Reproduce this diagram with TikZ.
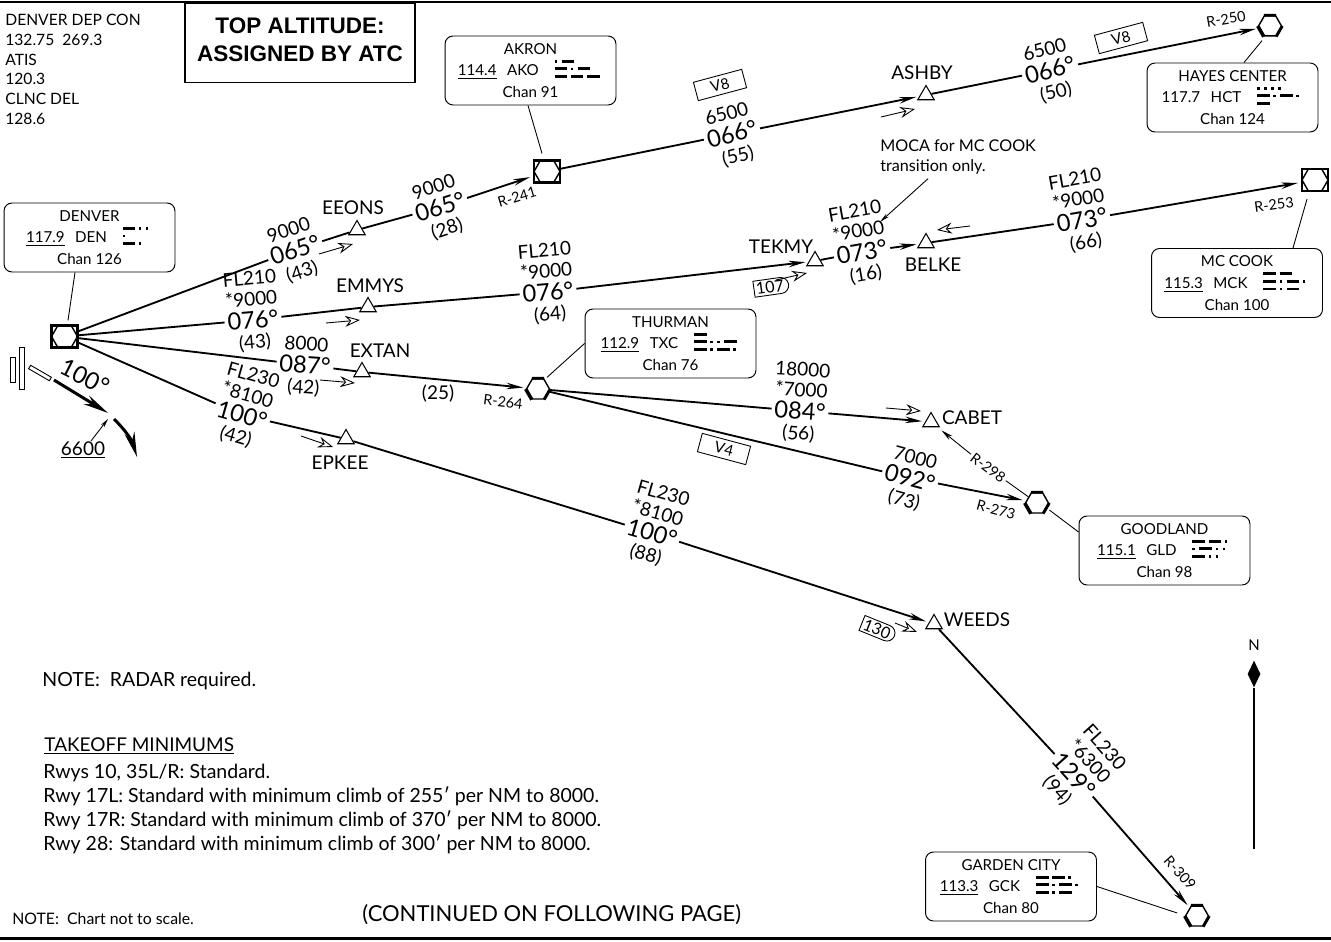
\documentclass[tikz,border=0pt]{standalone}
\usepackage{fontspec}
\setmainfont{Lato}
\newfontfamily\boldhead{Liberation Sans}
\usetikzlibrary{arrows.meta,shapes.geometric,shapes.misc}

\newcommand{\mda}{\rule{7.2pt}{1.6pt}\kern2pt}
\newcommand{\mdo}{\rule{1.4pt}{1.4pt}\kern2.6pt}
\newcommand{\morse}[3]{\raisebox{-1.1pt}{\vbox{\baselineskip=4.3pt\lineskip=0pt\lineskiplimit=-10pt\hbox{#1}\hbox{#2}\hbox{#3}}}}
\newcommand{\legblock}[6]{%
  \node[hdg,rotate=#3] (#1) at (#2) {#5};
  \node[altx,rotate=#3,anchor=south] (#1a) at (#1.north) {#4};
  \node[altx,rotate=#3,anchor=north] (#1d) at (#1.south) {#6};}
\newcommand{\flow}[3]{%
  \coordinate (#1s) at (#2);
  \coordinate (#1t) at (#3);
  \draw[flowarr] (#1s) -- (#1t);}

\tikzset{
  navbox/.style={draw,line width=.55pt,rounded corners=.16cm,minimum width=3.42cm,minimum height=1.38cm,
    align=center,inner sep=0pt,font=\fontsize{8.6}{12.4}\selectfont,execute at begin node={\rule{0pt}{10.5pt}}},
  fixtri/.style={regular polygon,regular polygon sides=3,draw,line width=.6pt,minimum size=.38cm,inner sep=0pt},
  hexfix/.style={regular polygon,regular polygon sides=6,draw,line width=.8pt,minimum size=.46cm,inner sep=0pt},
  vorbox/.style={rectangle,draw,line width=1.2pt,minimum width=.52cm,minimum height=.44cm,inner sep=0pt,
    path picture={\node[hexfix,minimum size=.52cm] at (path picture bounding box.center) {};}},
  hdg/.style={inner xsep=1.5pt,inner ysep=2.8pt,font=\fontsize{13.5}{13.5}\selectfont},
  altx/.style={inner sep=0pt,align=center,font=\fontsize{10.8}{11.6}\selectfont},
  leg/.style={line width=1.05pt},
  legto/.style={leg,-{Stealth[length=.34cm,width=.13cm]},shorten >=.06cm},
  leader/.style={line width=.5pt},
  flowarr/.style={line width=.5pt,-{Stealth[open,length=.3cm,width=.22cm,inset=.1cm,fill=white]}},
  fixname/.style={inner sep=0pt,font=\fontsize{10.8}{12}\selectfont},
  radial/.style={inner sep=1pt,font=\fontsize{8.2}{10}\selectfont},
  airway/.style={draw,line width=.5pt,inner sep=0pt,minimum width=1cm,minimum height=.38cm,font=\fontsize{8.6}{10}\selectfont},
  mintag/.style={rounded rectangle,rounded rectangle left arc=none,draw,line width=.5pt,inner sep=1.2pt,font=\fontsize{9.2}{10}\selectfont},
  chartnote/.style={inner sep=0pt,align=left,anchor=west},
}

\begin{document}
\begin{tikzpicture}[x=.02cm,y=-.02cm,>=Stealth]
\useasboundingbox (0,0) rectangle (1331,942);

\coordinate (tl) at (0,2);
\coordinate (tr) at (1331,2);
\coordinate (bl) at (0,938);
\coordinate (br) at (1331,938);
\draw[line width=1.7pt] (tl) -- (tr);
\draw[line width=1.7pt] (bl) -- (br);

\node[chartnote,anchor=north west,font=\fontsize{8.9}{11.2}\selectfont] (freqs) at (5,14) {DENVER DEP CON\\132.75\ \ 269.3\\ATIS\\120.3\\CLNC DEL\\128.6};
\node[draw,line width=.6pt,minimum width=4.6cm,minimum height=1.58cm,inner sep=0pt,align=center,font=\boldhead\bfseries\fontsize{12.8}{16}\selectfont,text depth=4pt] (topalt) at (300,43) {TOP ALTITUDE:\\ASSIGNED BY ATC};

\node[vorbox] (den) at (64.5,336.5) {};
\node[vorbox] (ako) at (547,171.5) {};
\node[vorbox] (mck) at (1315,180) {};
\node[hexfix] (hct) at (1270,26) {};
\node[hexfix] (txc) at (538,389) {};
\node[hexfix] (gld) at (1037,503) {};
\node[hexfix] (gck) at (1197,916) {};
\foreach \f in {hct,txc,gld,gck}{
  \draw[line width=2pt] (\f.corner 3) -- (\f.corner 4);
  \draw[line width=1.6pt] (\f.corner 1) -- (\f.corner 2) (\f.corner 5) -- (\f.corner 6);
}

\node[fixtri] (eeons) at (357,230) {};
\node[fixtri] (emmys) at (368,307) {};
\node[fixtri] (extan) at (362,372) {};
\node[fixtri] (epkee) at (346,439) {};
\node[fixtri] (ashby) at (926,95) {};
\node[fixtri] (tekmy) at (815,261) {};
\node[fixtri] (belke) at (926,243) {};
\node[fixtri] (cabet) at (931,422) {};
\node[fixtri] (weeds) at (934,624) {};

\node[fixname] at (353,208) {EEONS};
\node[fixname] at (370,286) {EMMYS};
\node[fixname] at (380,351) {EXTAN};
\node[fixname] at (340,463) {EPKEE};
\node[fixname] at (922,73) {ASHBY};
\node[fixname] at (781,247) {TEKMY};
\node[fixname] at (933,265) {BELKE};
\node[fixname] at (972,418) {CABET};
\node[fixname] at (977,620) {WEEDS};

\node[navbox] (denbox) at (89.5,237.5) {DENVER\\\underline{117.9}\hspace{6pt}DEN\hspace{9pt}\morse{\mda\mdo\mdo}{\mdo}{\mda\mdo}\\Chan 126};
\node[navbox] (akobox) at (530.5,70.5) {AKRON\\\underline{114.4}\hspace{6pt}AKO\hspace{9pt}\morse{\mdo\mda}{\mda\mdo\mda}{\mda\mda\mda}\\Chan 91};
\node[navbox] (hctbox) at (1232.5,97.5) {HAYES CENTER\\117.7\hspace{6pt}HCT\hspace{9pt}\morse{\mdo\mdo\mdo\mdo}{\mda\mdo\mda\mdo}{\mda}\\Chan 124};
\node[navbox] (mckbox) at (1237,283) {MC COOK\\\underline{115.3}\hspace{6pt}MCK\hspace{9pt}\morse{\mda\mda}{\mda\mdo\mda\mdo}{\mda\mdo\mda}\\Chan 100};
\node[navbox] (txcbox) at (670.5,343.5) {THURMAN\\\underline{112.9}\hspace{6pt}TXC\hspace{9pt}\morse{\mda}{\mda\mdo\mdo\mda}{\mda\mdo\mda\mdo}\\Chan 76};
\node[navbox] (gldbox) at (1164.5,550.5) {GOODLAND\\\underline{115.1}\hspace{6pt}GLD\hspace{9pt}\morse{\mda\mda\mdo}{\mdo\mda\mdo\mdo}{\mda\mdo\mdo}\\Chan 98};
\node[navbox] (gckbox) at (1011,886.5) {GARDEN CITY\\\underline{113.3}\hspace{6pt}GCK\hspace{9pt}\morse{\mda\mda\mdo}{\mda\mdo\mda\mdo}{\mda\mdo\mda}\\Chan 80};

\draw[leader] ([xshift=-.29cm]denbox.south) -- ([xshift=.07cm,yshift=.08cm]den.north);
\draw[leader] ([xshift=-.05cm]akobox.south) -- ([xshift=-.1cm,yshift=.12cm]ako.north);
\draw[leader] ([xshift=.23cm]hctbox.north) -- ([xshift=-.16cm,yshift=-.08cm]hct.south);
\draw[leader] ([xshift=1.12cm]mckbox.north) -- ([xshift=-.16cm,yshift=-.14cm]mck.south);
\draw[leader] (txcbox.west) -- ([xshift=.18cm,yshift=.02cm]txc.north);
\draw[leader] ([yshift=.37cm]gldbox.west) -- ([yshift=-.14cm]gld.east);
\draw[leader] (gckbox.east) -- ([xshift=-.15cm,yshift=.06cm]gck.west);

\legblock{ha}{295,250}{18}{9000}{065°}{(43)}
\legblock{hb}{440,207}{18}{9000}{065°}{(28)}
\legblock{hc}{732,134}{15}{6500}{066°}{(55)}
\legblock{hd}{1050,70}{15}{6500}{066°}{(50)}
\legblock{he}{253,320}{5}{FL210\\*9000}{076°}{(43)}
\legblock{hf}{548,292}{5}{FL210\\*9000}{076°}{(64)}
\legblock{hg}{862,252}{10}{FL210\\*9000}{073°}{(16)}
\legblock{hh}{1082,220}{10}{FL210\\*9000}{073°}{(66)}
\legblock{hi}{305,365}{-4}{8000}{087°}{(42)}
\legblock{hj}{242,415}{-16}{FL230\\*8100}{100°}{(42)}
\legblock{hk}{652,533}{-16}{FL230\\*8100}{100°}{(88)}
\legblock{hl}{1074,775}{-48}{FL230\\*6300}{129°}{(94)}
\legblock{hm}{800,411}{-4}{18000\\*7000}{084°}{(56)}
\legblock{hn}{910,478}{-15}{7000}{092°}{(73)}

\draw[leg] (den) -- (ha);
\draw[leg] (ha) -- (eeons);
\draw[leg] (eeons) -- (hb);
\draw[legto] (hb) -- (ako);
\draw[leg] (ako) -- (hc);
\draw[legto] (hc) -- (ashby);
\draw[leg] (ashby) -- (hd);
\draw[legto] (hd) -- (hct);
\draw[leg] (den) -- (he);
\draw[leg] (he) -- (emmys);
\draw[leg] (emmys) -- (hf);
\draw[legto] (hf) -- (tekmy);
\draw[leg] (tekmy) -- (hg);
\draw[legto] (hg) -- (belke);
\draw[leg] (belke) -- (hh);
\draw[legto] (hh) -- (mck);
\draw[leg] (den) -- (hi);
\draw[leg] (hi) -- (extan);
\draw[legto] (extan) -- (txc);
\draw[leg] (den) -- (hj);
\draw[leg] (hj) -- (epkee);
\draw[leg] (epkee) -- (hk);
\draw[legto] (hk) -- (weeds);
\draw[leg] (weeds) -- (hl);
\draw[legto] (hl) -- (gck);
\draw[leg] (txc) -- (hm);
\draw[legto] (hm) -- (cabet);
\draw[leg] (txc) -- (hn);
\draw[legto] (hn) -- (gld);

\node[radial,rotate=-37] (r298) at (988,468) {R-298};
\draw[leader] (gld) -- (r298);
\draw[leader,-{Stealth[length=.24cm,width=.1cm]},shorten >=.1cm] (r298) -- (cabet);

\node[altx] (d25) at (438,394) {(25)};
\node[radial,rotate=17] (r241) at (517,197) {R-241};
\node[radial,rotate=10] (r250) at (1226,19) {R-250};
\node[radial,rotate=8] (r253) at (1274,205) {R-253};
\node[radial,rotate=-7] (r264) at (503,402) {R-264};
\node[radial,rotate=-15] (r273) at (996,510) {R-273};
\node[radial,rotate=-48] (r309) at (1180,873) {R-309};

\node[airway,rotate=15] (v8a) at (720,85) {V8};
\node[airway,rotate=15] (v8b) at (1121,38) {V8};
\node[airway,rotate=-15] (v4) at (724,449) {V4};
\node[mintag,rotate=8] (m107) at (770,287) {107};
\node[mintag,rotate=-22] (m130) at (877,629) {130};

\flow{fa}{319,254}{353,244}
\flow{fb}{326,323}{360,320}
\flow{fc}{320,380}{355,383}
\flow{fd}{301,436}{333,447}
\flow{fe}{881,117}{915,109}
\flow{ff}{776,280}{807,273}
\flow{fg}{970,226}{937,230}
\flow{fh}{886,408}{921,411}
\flow{fi}{895,623}{917,632}

\node[chartnote,font=\fontsize{9.2}{11.4}\selectfont] (moca) at (880,157) {MOCA for MC COOK\\transition only.};
\coordinate (mocatip) at (880,222);
\draw[leader,-{Stealth[length=.2cm,width=.08cm]}] ([xshift=-.6cm,yshift=-.08cm]moca.south) -- (mocatip);

\node[draw,line width=.5pt,minimum width=.1cm,minimum height=.5cm,inner sep=0pt] (rwa) at (12.5,369.5) {};
\node[draw,line width=.5pt,minimum width=.1cm,minimum height=.84cm,inner sep=0pt] (rwb) at (21.5,368) {};
\node[draw,line width=.5pt,minimum width=.48cm,minimum height=.08cm,inner sep=0pt,rotate=-30] (rwc) at (40,373) {};
\coordinate (dep1) at (54,380);
\coordinate (dep2) at (108,413);
\coordinate (dep3) at (114,419);
\coordinate (dep4) at (137,457);
\coordinate (alttip) at (108,419);
\draw[line width=1.7pt,-{Stealth[length=.5cm,width=.2cm]}] (dep1) -- (dep2);
\draw[line width=1.7pt,-{Stealth[length=.5cm,width=.2cm]}] (dep3) to[bend left=14] (dep4);
\node[hdg,rotate=-27] (rwyhdg) at (85,377) {100°};
\node[altx] (dep6600) at (83,450) {\underline{6600}};
\draw[leader,-{Stealth[length=.18cm,width=.08cm]}] ([xshift=.16cm]dep6600.north) -- (alttip);

\node[chartnote,font=\fontsize{11.1}{13}\selectfont] (radar) at (42,681) {NOTE:\ \ RADAR required.};
\node[chartnote,font=\fontsize{10.8}{13}\selectfont] (tkof) at (44,746) {\underline{TAKEOFF MINIMUMS}};
\node[chartnote,anchor=north west,font=\fontsize{11.1}{13.7}\selectfont] (mins) at (43,764) {Rwys 10, 35L/R: Standard.\\Rwy 17L: Standard with minimum climb of 255′ per NM to 8000.\\Rwy 17R: Standard with minimum climb of 370′ per NM to 8000.\\Rwy 28: Standard with minimum climb of 300′ per NM to 8000.};
\node[chartnote,font=\fontsize{9}{11}\selectfont] (scale) at (12,919) {NOTE:\ \ Chart not to scale.};
\node[chartnote,font=\fontsize{12.5}{14}\selectfont] (contd) at (362,915) {(CONTINUED ON FOLLOWING PAGE)};

\node[inner sep=0pt,font=\fontsize{8.5}{10}\selectfont] (northn) at (1254,645) {N};
\node[diamond,fill,aspect=.5,minimum width=.26cm,minimum height=.54cm,inner sep=0pt] (northd) at (1254,674) {};
\coordinate (northe) at (1254,849);
\draw[line width=.8pt] (northd) -- (northe);
\end{tikzpicture}
\end{document}
